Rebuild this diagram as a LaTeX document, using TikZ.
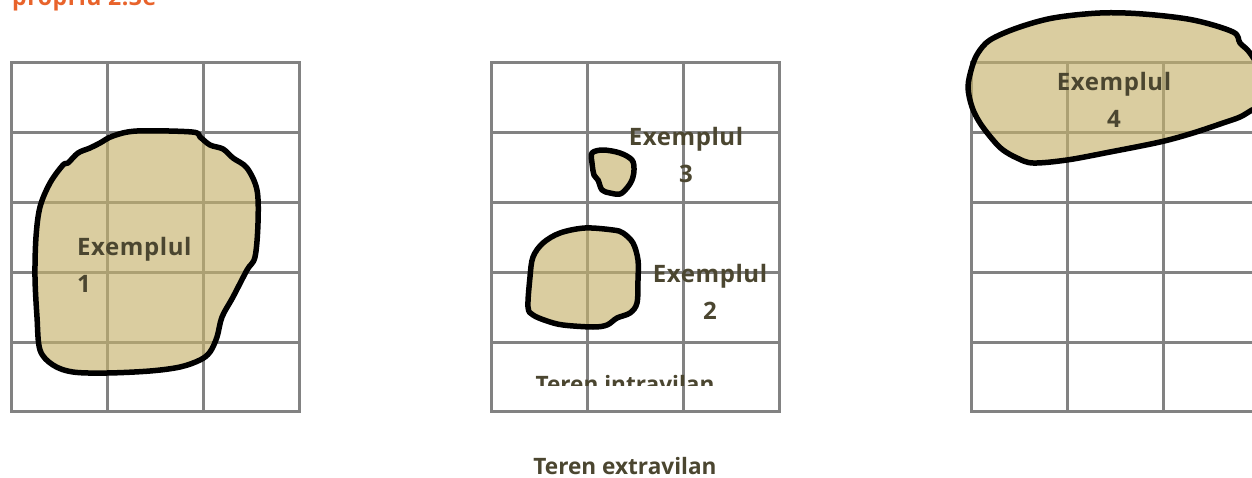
\documentclass[tikz,border=0pt]{standalone}
\usepackage{fontspec}
\newfontfamily\lblfont{Open Sans}[LetterSpace=2.5]
\newfontfamily\terenfont{Open Sans}
\definecolor{gridcol}{RGB}{130,130,130}
\definecolor{tanfill}{RGB}{197,177,107}
\definecolor{txtcol}{RGB}{75,70,48}
\definecolor{orangecol}{RGB}{232,99,43}
\begin{document}
\begin{tikzpicture}[x=1pt,y=-1pt,
  gridline/.style={draw=gridcol,line width=3pt,line cap=rect},
  blob/.style={draw=black,line width=5.5pt,line join=round,fill=tanfill,fill opacity=0.64},
  lbl/.style={text=txtcol,inner sep=0pt,font={\lblfont\bfseries\fontsize{24pt}{37pt}\selectfont}},
  terenlbl/.style={text=txtcol,inner sep=0pt,font={\terenfont\bfseries\fontsize{22.6pt}{30pt}\selectfont}},
  toplbl/.style={text=orangecol,inner sep=0pt,font={\lblfont\bfseries\fontsize{23pt}{30pt}\selectfont}}]
\useasboundingbox (0,0) rectangle (1252,478);
% grids
\foreach \gx in {11,491,971}{
  \foreach \i in {0,1,2,3}{\draw[gridline] (\gx+96*\i,63) -- (\gx+96*\i,411);}
  \foreach \yy in {63,133,203,272,342,411}{\draw[gridline] (\gx,\yy) -- (\gx+288,\yy);}
}
% shape 1
\draw[blob] plot[smooth cycle,tension=0.55] coordinates {
 (137,131) (192,132) (200,137) (210,145) (223,149) (233,158) (247,168) (257,190)
 (258,223) (255,257) (247,270) (233,297) (222,317) (217,337) (210,352) (200,360)
 (180,367) (150,371) (107,373) (73,372) (53,365) (40,350) (37,317) (35,277)
 (36,237) (40,207) (50,183) (63,165) (68,163) (78,153) (90,148) (100,143) (113,136)};
% shape 2
\draw[blob] plot[smooth cycle,tension=0.55] coordinates {
 (585,228) (613,230) (623,233) (633,243) (638,260) (638,280) (637,303) (630,313)
 (617,318) (607,325) (593,327) (563,325) (547,321) (533,315) (528,307) (530,277)
 (533,257) (543,243) (560,233)};
% shape 3
\draw[blob] plot[smooth cycle,tension=0.55] coordinates {
 (592,153) (603,150) (620,153) (632,160) (634,170) (632,180) (627,188) (620,194)
 (610,193) (602,190) (598,180) (594,175) (592,163)};
% shape 4
\draw[blob] plot[smooth cycle,tension=0.55] coordinates {
 (990,40) (1017,28) (1053,18) (1100,13) (1143,14) (1193,20) (1233,32) (1240,43)
 (1250,53) (1262,75) (1262,105) (1252,110) (1240,117) (1223,123) (1193,133) (1160,142)
 (1110,152) (1067,160) (1033,163) (1017,158) (1003,150) (993,140) (980,123) (972,107)
 (968,87) (972,67) (978,53)};
% labels
\node[toplbl,anchor=base west] (title) at (12,6) {propriu 2.3e};
\node[lbl,anchor=base west,align=left] (ex1) at (77,292) {Exemplul\\1};
\node[lbl,anchor=base,align=center] (ex3) at (686,183) {Exemplul\\3};
\node[lbl,anchor=base,align=center] (ex2) at (710,319) {Exemplul\\2};
\node[lbl,anchor=base,align=center] (ex4) at (1114,128) {Exemplul\\4};
\begin{scope}
\clip (480,300) rectangle (800,385);
\node[terenlbl,anchor=base] (intra) at (625,392) {Teren intravilan};
\end{scope}
\node[terenlbl,anchor=base] (extra) at (625,474) {Teren extravilan};
\end{tikzpicture}
\end{document}
